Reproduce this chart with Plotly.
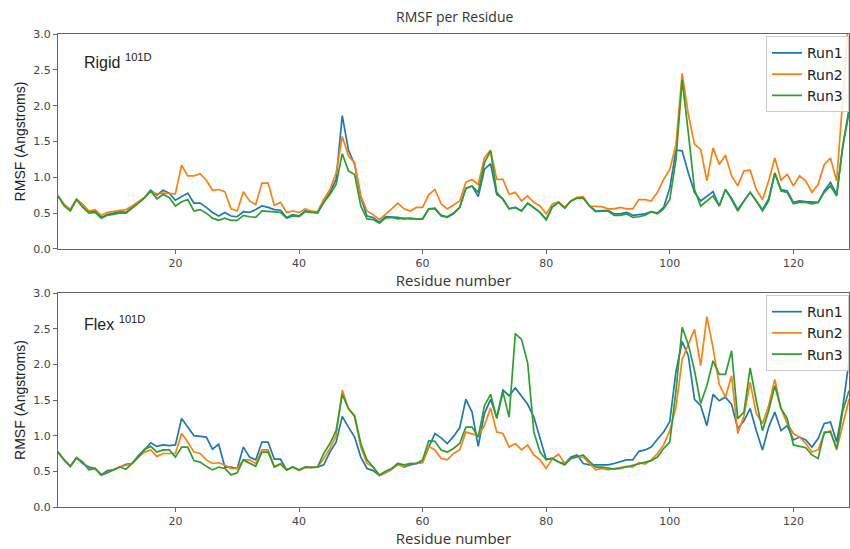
import plotly.graph_objects as go

residues = list(range(1, 130))

rigid_run1 = [
    0.74, 0.62, 0.55, 0.69, 0.62, 0.52, 0.53, 0.44, 0.48, 0.50,
    0.52, 0.51, 0.58, 0.65, 0.72, 0.82, 0.75, 0.82, 0.78, 0.68,
    0.73, 0.78, 0.64, 0.64, 0.58, 0.51, 0.46, 0.51, 0.46, 0.45,
    0.52, 0.51, 0.55, 0.60, 0.58, 0.55, 0.54, 0.44, 0.48, 0.46,
    0.53, 0.51, 0.50, 0.65, 0.79, 0.97, 1.86, 1.38, 1.18, 0.72,
    0.46, 0.44, 0.37, 0.45, 0.45, 0.44, 0.42, 0.43, 0.42, 0.42,
    0.56, 0.57, 0.47, 0.45, 0.50, 0.58, 0.85, 0.88, 0.73, 1.11,
    1.19, 0.76, 0.70, 0.56, 0.58, 0.53, 0.64, 0.58, 0.51, 0.41,
    0.59, 0.65, 0.57, 0.67, 0.71, 0.71, 0.60, 0.53, 0.53, 0.54,
    0.49, 0.49, 0.51, 0.47, 0.48, 0.49, 0.52, 0.50, 0.58, 0.85,
    1.38, 1.37, 1.06, 0.79, 0.67, 0.74, 0.80, 0.60, 0.83, 0.71,
    0.55, 0.67, 0.79, 0.67, 0.55, 0.70, 1.06, 0.83, 0.81, 0.65,
    0.67, 0.66, 0.65, 0.65, 0.81, 0.93, 0.76, 1.44, 1.95,
]
rigid_run2 = [
    0.74, 0.62, 0.55, 0.70, 0.62, 0.53, 0.55, 0.47, 0.51, 0.52,
    0.53, 0.55, 0.60, 0.66, 0.72, 0.80, 0.77, 0.78, 0.78, 0.77,
    1.17, 1.02, 1.02, 1.05, 0.96, 0.82, 0.83, 0.80, 0.56, 0.53,
    0.80, 0.67, 0.62, 0.92, 0.92, 0.61, 0.65, 0.51, 0.53, 0.51,
    0.56, 0.53, 0.52, 0.69, 0.83, 1.06, 1.57, 1.30, 1.20, 0.74,
    0.53, 0.48, 0.41, 0.48, 0.56, 0.64, 0.56, 0.53, 0.58, 0.58,
    0.76, 0.83, 0.63, 0.56, 0.61, 0.67, 0.93, 0.97, 0.90, 1.27,
    1.38, 0.97, 0.97, 0.76, 0.79, 0.67, 0.74, 0.65, 0.60, 0.49,
    0.63, 0.66, 0.58, 0.67, 0.72, 0.73, 0.60, 0.59, 0.59, 0.56,
    0.56, 0.58, 0.56, 0.56, 0.69, 0.69, 0.67, 0.79, 0.97, 1.11,
    1.46, 2.45, 1.88, 1.46, 1.39, 0.95, 1.41, 1.18, 1.31, 1.02,
    0.88, 1.09, 1.10, 0.83, 0.69, 0.95, 1.27, 0.96, 1.04, 0.88,
    1.02, 0.95, 0.79, 0.90, 1.18, 1.27, 0.95, 2.10, 3.30,
]
rigid_run3 = [
    0.74, 0.60, 0.53, 0.69, 0.58, 0.50, 0.51, 0.43, 0.47, 0.49,
    0.50, 0.50, 0.57, 0.64, 0.71, 0.81, 0.70, 0.76, 0.72, 0.60,
    0.66, 0.69, 0.53, 0.55, 0.50, 0.43, 0.40, 0.43, 0.40, 0.40,
    0.47, 0.45, 0.44, 0.53, 0.52, 0.52, 0.51, 0.43, 0.46, 0.45,
    0.52, 0.51, 0.51, 0.65, 0.76, 0.90, 1.33, 1.09, 1.04, 0.60,
    0.42, 0.41, 0.36, 0.43, 0.44, 0.42, 0.43, 0.42, 0.42, 0.42,
    0.56, 0.56, 0.46, 0.44, 0.49, 0.58, 0.84, 0.88, 0.79, 1.20,
    1.37, 0.79, 0.69, 0.56, 0.58, 0.53, 0.64, 0.58, 0.51, 0.41,
    0.59, 0.65, 0.57, 0.67, 0.71, 0.71, 0.60, 0.52, 0.52, 0.53,
    0.47, 0.47, 0.49, 0.44, 0.45, 0.47, 0.52, 0.49, 0.56, 0.69,
    1.25, 2.36, 1.62, 0.83, 0.60, 0.67, 0.74, 0.60, 0.83, 0.69,
    0.53, 0.67, 0.79, 0.67, 0.53, 0.67, 1.06, 0.81, 0.79, 0.63,
    0.65, 0.65, 0.63, 0.65, 0.79, 0.88, 0.74, 1.44, 1.90,
]

flex_run1 = [
    0.77, 0.66, 0.57, 0.69, 0.61, 0.56, 0.54, 0.45, 0.51, 0.52,
    0.56, 0.60, 0.61, 0.72, 0.80, 0.90, 0.85, 0.87, 0.86, 0.87,
    1.24, 1.12, 1.00, 0.99, 0.98, 0.81, 0.88, 0.56, 0.56, 0.54,
    0.84, 0.70, 0.66, 0.91, 0.91, 0.67, 0.67, 0.52, 0.56, 0.52,
    0.56, 0.56, 0.56, 0.59, 0.77, 0.91, 1.27, 1.12, 0.98, 0.70,
    0.54, 0.51, 0.44, 0.48, 0.53, 0.61, 0.56, 0.59, 0.61, 0.63,
    0.84, 1.03, 0.97, 0.89, 0.99, 1.11, 1.51, 1.33, 0.85, 1.31,
    1.51, 1.26, 1.64, 1.56, 1.67, 1.56, 1.44, 1.26, 0.98, 0.67,
    0.68, 0.63, 0.61, 0.70, 0.73, 0.61, 0.59, 0.59, 0.60, 0.59,
    0.61, 0.63, 0.66, 0.66, 0.78, 0.80, 0.84, 0.95, 1.05, 1.20,
    1.90, 2.32, 2.12, 1.51, 1.42, 1.14, 1.58, 1.49, 1.54, 1.44,
    1.10, 1.21, 1.38, 1.07, 0.80, 1.12, 1.33, 1.07, 1.14, 0.94,
    0.98, 0.94, 0.84, 0.96, 1.17, 1.19, 0.91, 1.40, 2.05,
]
flex_run2 = [
    0.77, 0.66, 0.57, 0.69, 0.63, 0.53, 0.54, 0.45, 0.48, 0.53,
    0.56, 0.58, 0.61, 0.70, 0.77, 0.80, 0.71, 0.75, 0.75, 0.75,
    1.03, 0.91, 0.77, 0.75, 0.66, 0.61, 0.62, 0.59, 0.54, 0.54,
    0.66, 0.66, 0.61, 0.80, 0.80, 0.57, 0.61, 0.52, 0.56, 0.51,
    0.55, 0.55, 0.56, 0.68, 0.82, 1.00, 1.64, 1.38, 1.26, 0.84,
    0.61, 0.56, 0.44, 0.48, 0.54, 0.59, 0.57, 0.61, 0.61, 0.62,
    0.85, 0.80, 0.68, 0.66, 0.75, 0.80, 1.05, 1.03, 1.00, 1.14,
    1.39, 1.05, 1.03, 0.84, 0.89, 0.80, 0.87, 0.73, 0.66, 0.54,
    0.68, 0.74, 0.61, 0.68, 0.70, 0.70, 0.61, 0.52, 0.54, 0.52,
    0.54, 0.56, 0.57, 0.56, 0.62, 0.60, 0.66, 0.75, 0.87, 1.07,
    1.40, 2.07, 2.28, 2.49, 1.98, 2.67, 2.23, 1.72, 1.54, 1.84,
    1.03, 1.28, 1.75, 1.31, 1.17, 1.42, 1.79, 1.38, 1.17, 1.03,
    0.98, 0.89, 0.77, 0.80, 1.03, 1.07, 0.80, 1.17, 1.51,
]
flex_run3 = [
    0.77, 0.66, 0.57, 0.69, 0.63, 0.52, 0.54, 0.45, 0.48, 0.52,
    0.56, 0.53, 0.61, 0.70, 0.81, 0.85, 0.77, 0.80, 0.80, 0.70,
    0.84, 0.84, 0.65, 0.63, 0.57, 0.52, 0.56, 0.54, 0.45, 0.48,
    0.66, 0.61, 0.57, 0.77, 0.77, 0.56, 0.60, 0.52, 0.56, 0.52,
    0.56, 0.55, 0.56, 0.75, 0.89, 1.07, 1.58, 1.38, 1.28, 0.89,
    0.66, 0.56, 0.45, 0.50, 0.54, 0.61, 0.59, 0.61, 0.61, 0.66,
    0.93, 0.92, 0.80, 0.77, 0.82, 0.89, 1.12, 1.12, 0.98, 1.42,
    1.58, 1.24, 1.61, 1.26, 2.43, 2.35, 2.02, 1.05, 0.77, 0.66,
    0.68, 0.63, 0.59, 0.68, 0.71, 0.73, 0.64, 0.56, 0.56, 0.54,
    0.53, 0.54, 0.56, 0.59, 0.61, 0.63, 0.65, 0.70, 0.82, 0.91,
    1.63, 2.52, 2.28, 1.91, 1.45, 1.70, 2.05, 1.86, 1.86, 2.19,
    1.24, 1.33, 1.95, 1.49, 1.07, 1.35, 1.70, 1.38, 1.24, 0.87,
    0.85, 0.83, 0.73, 0.68, 1.05, 1.05, 0.82, 1.35, 1.63,
]

run_names = ["Run1", "Run2", "Run3"]
colors = ["#1f77b4", "#ff7f0e", "#2ca02c"]
x_ticks = [20, 40, 60, 80, 100, 120]
y_ticks = [0.0, 0.5, 1.0, 1.5, 2.0, 2.5, 3.0]
y_ticklabels = ["0.0", "0.5", "1.0", "1.5", "2.0", "2.5", "3.0"]

fig = go.Figure()
for name, col, vals in zip(run_names, colors, [rigid_run1, rigid_run2, rigid_run3]):
    fig.add_trace(go.Scatter(x=residues, y=vals, mode="lines", name=name,
                             line=dict(color=col, width=1.7),
                             xaxis="x", yaxis="y", legend="legend"))
for name, col, vals in zip(run_names, colors, [flex_run1, flex_run2, flex_run3]):
    fig.add_trace(go.Scatter(x=residues, y=vals, mode="lines", name=name,
                             line=dict(color=col, width=1.7),
                             xaxis="x2", yaxis="y2", legend="legend2"))

tickfont = dict(family="DejaVu Sans", size=11, color="#444")
axis_common = dict(showline=True, mirror=True, linecolor="#666", linewidth=1.3,
                   ticks="outside", ticklen=4, tickcolor="#666", showgrid=False,
                   zeroline=False, tickfont=tickfont)
xtitle_font = dict(family="Open Sans", size=15, color="#333")
ytitle_font = dict(family="Liberation Sans", size=14, color="#222")

legend_common = dict(xanchor="right", x=1.0, yanchor="top",
                     bgcolor="rgba(255,255,255,0.85)", bordercolor="#cccccc",
                     borderwidth=1, font=dict(family="DejaVu Sans", size=14, color="#222"),
                     itemwidth=30, tracegroupgap=0)

fig.update_layout(
    width=850, height=549,
    margin=dict(l=58, r=1, t=34, b=42),
    plot_bgcolor="white", paper_bgcolor="white",
    title=dict(text="RMSF per Residue", x=0.535, xanchor="center", y=0.968, yanchor="middle",
               font=dict(family="Open Sans", size=14, color="#333")),
    xaxis=dict(domain=[0, 1], range=[1, 129], tickvals=x_ticks, anchor="y",
               title=dict(text="Residue number", font=xtitle_font, standoff=2), **axis_common),
    yaxis=dict(domain=[0.5455, 1], range=[0, 3], tickvals=y_ticks, ticktext=y_ticklabels,
               anchor="x", title=dict(text="RMSF (Angstroms)", font=ytitle_font, standoff=4),
               **axis_common),
    xaxis2=dict(domain=[0, 1], range=[1, 129], tickvals=x_ticks, anchor="y2",
                title=dict(text="Residue number", font=xtitle_font, standoff=2), **axis_common),
    yaxis2=dict(domain=[0, 0.4524], range=[0, 3], tickvals=y_ticks, ticktext=y_ticklabels,
                anchor="x2", title=dict(text="RMSF (Angstroms)", font=ytitle_font, standoff=4),
                **axis_common),
    legend=dict(y=0.995, **legend_common),
    legend2=dict(y=0.448, **legend_common),
    annotations=[
        dict(text="Rigid <sup>101D</sup>", x=4.9, y=2.62, xref="x", yref="y",
             xanchor="left", yanchor="middle", showarrow=False,
             font=dict(family="Liberation Sans", size=16, color="#222")),
        dict(text="Flex <sup>101D</sup>", x=4.9, y=2.58, xref="x2", yref="y2",
             xanchor="left", yanchor="middle", showarrow=False,
             font=dict(family="Liberation Sans", size=16, color="#222")),
    ],
    showlegend=True,
)

fig.write_html(
    "out.html",
    config={"displayModeBar": False},
    post_script="document.body.style.margin='0';document.body.style.overflow='hidden';",
)
